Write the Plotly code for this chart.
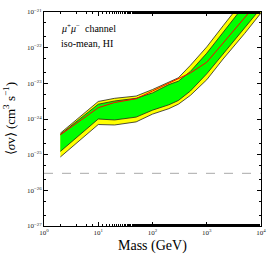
import plotly.graph_objects as go

mass = [2, 5, 10, 20, 50, 100, 200, 300, 500, 1000, 2000, 5000, 10000]
yellow_top = [4.0e-25, 1.26e-24, 3.1e-24, 3.8e-24, 4.4e-24, 6.7e-24, 1.1e-23, 1.43e-23, 3.2e-23, 1.05e-22, 4.1e-22, 2.4e-21, 9.2e-21]
green_top = [3.7e-25, 1.13e-24, 2.6e-24, 3.2e-24, 3.8e-24, 5.4e-24, 9.2e-24, 1.15e-23, 2.16e-23, 7.0e-23, 2.7e-22, 1.6e-21, 6.1e-21]
observed = [3.6e-25, 1.0e-24, 2.07e-24, 2.9e-24, 3.7e-24, 6.1e-24, 1.0e-23, 1.34e-23, 1.96e-23, 3.9e-23, 1.34e-22, 6.7e-22, 2.4e-21]
green_bot = [1.23e-25, 4.0e-25, 1.0e-24, 9.4e-25, 1.13e-24, 1.77e-24, 2.5e-24, 3.3e-24, 6.1e-24, 1.85e-23, 7.0e-23, 3.6e-22, 1.29e-21]
yellow_bot = [8.6e-26, 2.8e-25, 7.0e-25, 6.8e-25, 8.3e-25, 1.37e-24, 1.95e-24, 2.6e-24, 4.6e-24, 1.26e-23, 4.8e-23, 2.5e-22, 9.4e-22]
thermal = 3e-26

x_ticks = [1, 10, 100, 1000, 10000]
x_text = ["10<sup>0</sup>", "10<sup>1</sup>", "10<sup>2</sup>", "10<sup>3</sup>", "10<sup>4</sup>"]
y_ticks = [1e-27, 1e-26, 1e-25, 1e-24, 1e-23, 1e-22, 1e-21]
y_text = ["10<sup>−27</sup>", "10<sup>−26</sup>", "10<sup>−25</sup>", "10<sup>−24</sup>",
          "10<sup>−23</sup>", "10<sup>−22</sup>", "10<sup>−21</sup>"]

serif = "Liberation Serif"
fig = go.Figure()

fig.add_trace(go.Scatter(x=mass + mass[::-1], y=yellow_top + yellow_bot[::-1],
                         fill="toself", fillcolor="#ffff00", mode="lines",
                         line=dict(color="#222222", width=0.8), hoverinfo="skip"))
fig.add_trace(go.Scatter(x=mass + mass[::-1], y=green_top + green_bot[::-1],
                         fill="toself", fillcolor="#00ff00", mode="lines",
                         line=dict(color="#222222", width=0.8), hoverinfo="skip"))
fig.add_trace(go.Scatter(x=mass, y=observed, mode="lines",
                         line=dict(color="#ff0000", width=1)))
fig.add_trace(go.Scatter(x=[1, 10000], y=[thermal, thermal], mode="lines",
                         line=dict(color="#aaaaaa", width=1, dash="dash")))

fig.add_annotation(x=0.07, y=0.886, xref="paper", yref="paper", xanchor="left", yanchor="bottom",
                   text="<i>μ</i><sup>+</sup><i>μ</i><sup>−</sup>  channel", showarrow=False,
                   font=dict(family=serif, size=10, color="black"))
fig.add_annotation(x=0.07, y=0.89, xref="paper", yref="paper", xanchor="left", yanchor="top",
                   text="iso-mean, HI", showarrow=False,
                   font=dict(family=serif, size=10, color="black"))
fig.add_annotation(x=0.5, y=-0.092, xref="paper", yref="paper", xanchor="center", yanchor="middle",
                   text="Mass (GeV)", showarrow=False,
                   font=dict(family=serif, size=14, color="black"))
fig.add_annotation(x=-0.16, y=0.5, xref="paper", yref="paper", xanchor="center", yanchor="middle",
                   text="⟨<i>σ</i>v⟩ (cm<sup>3</sup> s<sup>−1</sup>)", showarrow=False, textangle=-90,
                   font=dict(family=serif, size=13, color="black"))

axis_common = dict(showline=True, linecolor="black", linewidth=1, mirror="ticks",
                   ticks="inside", ticklen=4, tickcolor="black", showgrid=False, zeroline=False,
                   tickfont=dict(family=serif, size=7, color="#222222"),
                   minor=dict(ticks="inside", ticklen=2, tickcolor="black", showgrid=False))

fig.update_xaxes(type="log", range=[0, 4], tickvals=x_ticks, ticktext=x_text, **axis_common)
fig.update_yaxes(type="log", range=[-27, -21], tickvals=y_ticks, ticktext=y_text, **axis_common)

fig.update_layout(width=274, height=257, margin=dict(l=44, r=13, t=8, b=31),
                  showlegend=False, plot_bgcolor="white", paper_bgcolor="white")

fig.write_html("out.html", config={"displayModeBar": False, "staticPlot": True},
               post_script="document.body.style.margin='0';document.body.style.overflow='hidden';")
